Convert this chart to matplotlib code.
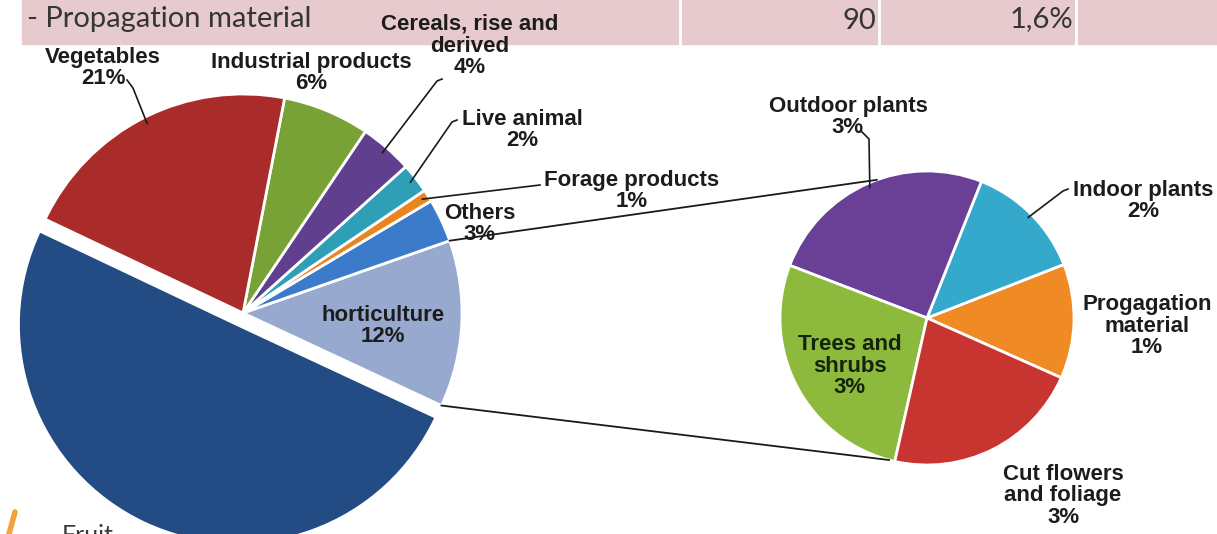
import matplotlib
matplotlib.use('agg')
import matplotlib.pyplot as plt
from matplotlib.patches import Rectangle
import numpy as np

# main pie (share of total, %)
main_labels = ['horticulture', 'Others', 'Forage products', 'Live animal',
               'Cereals, rise and\nderived', 'Industrial products', 'Vegetables', 'Fruit']
main_values = [12.3, 3.2, 0.9, 2.2, 3.9, 6.4, 21.0, 50.1]
main_colors = ['#98a9d0', '#3c7bc9', '#ea8420', '#2f9fb8',
               '#60408e', '#78a136', '#a92b2a', '#234c84']

# horticulture split (share of total, %)
hort_labels = ['Progagation\nmaterial', 'Indoor plants', 'Outdoor plants',
               'Trees and\nshrubs', 'Cut flowers\nand foliage']
hort_values = [1.5, 1.55, 3.0, 3.25, 2.6]
hort_shown = [1, 2, 3, 3, 3]
hort_colors = ['#ef8a25', '#34a9cc', '#6a4096', '#8db93c', '#c8342f']

table_row = ['- Propagation material', '90', '1,6%']

W, H = 1217, 534
fig = plt.figure(figsize=(W / 100, H / 100), dpi=100)
ax = fig.add_axes([0, 0, 1, 1])

def Y(y):
    return H - y

# pie geometry (pixels)
c1, r1 = (243, Y(313)), 219
c2, r2 = (927, Y(318)), 147

w1, _ = ax.pie(main_values, colors=main_colors, startangle=-25, center=c1, radius=r1,
               explode=[0, 0, 0, 0, 0, 0, 0, 13],
               wedgeprops=dict(edgecolor='white', linewidth=2))
w2, _ = ax.pie(hort_values, colors=hort_colors, startangle=-24, center=c2, radius=r2,
               wedgeprops=dict(edgecolor='white', linewidth=2))

def edge_pt(w, frac=1.0, ang=None):
    if ang is None:
        ang = (w.theta1 + w.theta2) / 2
    a = np.radians(ang)
    return w.center[0] + w.r * frac * np.cos(a), w.center[1] + w.r * frac * np.sin(a)

# connector lines between the pies
hw = w1[0]
for a1, a2 in [(hw.theta2, 110), (hw.theta1, 255)]:
    p1 = edge_pt(hw, ang=a1)
    a = np.radians(a2)
    p2 = (c2[0] + r2 * np.cos(a), c2[1] + r2 * np.sin(a))
    ax.plot([p1[0], p2[0]], [p1[1], p2[1]], color='#1a1a1a', lw=1.3, zorder=3)

font = dict(family=['Liberation Sans', 'DejaVu Sans'], fontweight='bold', fontsize=16,
            color='#1c1c1c', ha='center', va='center', linespacing=1.05, zorder=5)

# label positions (image coords) and optional leader elbow
main_pos = {
    'horticulture': (383, 326, None),
    'Others': (480, 224, None),
    'Forage products': (632, 191, [(540, 185)]),
    'Live animal': (522, 130, [(457, 120), (452, 122)]),
    'Cereals, rise and\nderived': (470, 46, [(442, 79), (437, 81)]),
    'Industrial products': (311, 73, None),
    'Vegetables': (103, 68, [(127, 80), (133, 88)]),
}
for w, lab, v in zip(w1, main_labels, main_values):
    if lab not in main_pos:
        continue
    x, y, lead = main_pos[lab]
    ax.text(x, Y(y), f'{lab}\n{round(v)}%', **font)
    if lead:
        pts = [(px, Y(py)) for px, py in lead] + [edge_pt(w, 0.97)]
        xs, ys = zip(*pts)
        ax.plot(xs, ys, color='#1a1a1a', lw=1.2, zorder=4)

hort_pos = {
    'Progagation\nmaterial': (1147, 326, None),
    'Indoor plants': (1143, 201, [(1068, 189), (1063, 191)]),
    'Outdoor plants': (848, 117, [(862, 132), (869, 139)]),
    'Trees and\nshrubs': (850, 366, None),
    'Cut flowers\nand foliage': (1063, 496, None),
}
for w, lab, v in zip(w2, hort_labels, hort_shown):
    x, y, lead = hort_pos[lab]
    col = '#13240a' if lab.startswith('Trees') else '#1c1c1c'
    ax.text(x, Y(y), f'{lab}\n{v}%', **{**font, 'color': col})
    if lead:
        pts = [(px, Y(py)) for px, py in lead] + [edge_pt(w, 0.97)]
        xs, ys = zip(*pts)
        ax.plot(xs, ys, color='#1a1a1a', lw=1.2, zorder=4)

# table strip at the top
ax.add_patch(Rectangle((22, Y(44)), W - 22, 44, color='#e6cacd', zorder=1))
for sx in [680, 879, 1076]:
    ax.plot([sx, sx], [Y(0), Y(44)], color='white', lw=2, zorder=2)
tfont = dict(family='Lato', fontsize=21, color='#353535', va='center', zorder=2)
ax.text(27, Y(19), table_row[0], ha='left', **tfont)
ax.text(876, Y(21), table_row[1], ha='right', **tfont)
ax.text(1073, Y(19), table_row[2], ha='right', **tfont)

# cut-off logo at the bottom left
ax.plot([9, 15], [Y(534), Y(512)], color='#f2a33a', lw=4, solid_capstyle='round')
ax.text(62, Y(524), 'Fruit', family='Lato', fontsize=18, color='#3a3a3a', va='top')

ax.set_xlim(0, W)
ax.set_ylim(0, H)
ax.set_aspect('equal')
ax.axis('off')
fig.savefig('out.png', dpi=100)
